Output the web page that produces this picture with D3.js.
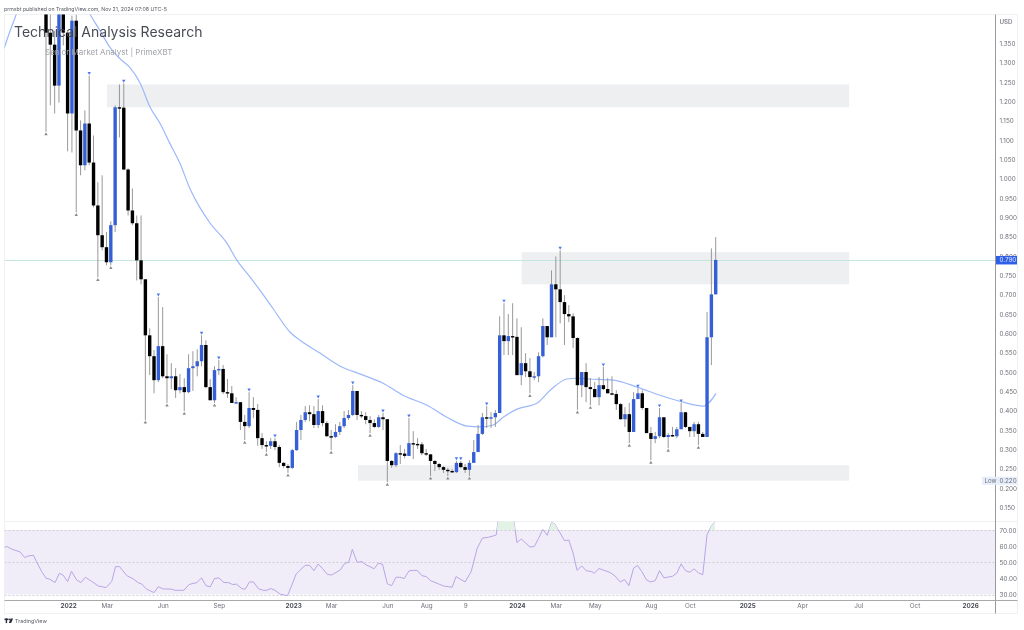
<!DOCTYPE html>
<html><head><meta charset="utf-8">
<script src="https://d3js.org/d3.v7.min.js"></script>
<style>html,body{margin:0;padding:0;background:#fff}svg{display:block;font-family:Inter,"Noto Sans",sans-serif;filter:blur(0.4px)}</style>
</head><body><svg id="c" width="1024" height="630"></svg>
<script>
const opens=[1.46,1.378,1.347,1.241,1.448,1.378,1.169,1.409,1.125,1.035,
1.143,1.042,.931,.854,.823,.784,.880,1.185,1.184,1.024,
.918,.885,.789,.740,.595,.541,.479,.567,.489,.484,
.489,.453,.461,.448,.510,.515,.528,.570,.461,.427,
.505,.508,.448,.445,.420,.422,.371,.360,.407,.402,
.329,.311,.309,.321,.306,.265,.257,.252,.298,.350,
.376,.396,.391,.363,.399,.368,.334,.332,.345,.360,
.381,.389,.451,.389,.386,.376,.368,.358,.383,.378,
.270,.259,.290,.289,.283,.316,.314,.313,.290,.287,
.270,.262,.254,.247,.244,.241,.265,.254,.247,.265,
.293,.340,.383,.381,.383,.394,.595,.580,.593,.591,
.492,.523,.502,.487,.489,.541,.619,.590,.727,.714,
.681,.650,.644,.588,.466,.500,.461,.456,.435,.466,
.456,.445,.443,.417,.378,.391,.345,.430,.445,.407,
.342,.327,.334,.383,.332,.337,.334,.352,.396,.358,
.347,.365,.340,.332,.590,.701];
const closes=[1.378,1.347,1.241,1.448,1.378,1.169,1.409,1.125,1.035,1.143,
1.042,.931,.854,.823,.784,.880,1.185,1.184,1.024,.918,
.885,.789,.740,.595,.541,.479,.567,.489,.484,.489,
.453,.461,.448,.510,.515,.528,.570,.461,.427,.505,
.508,.448,.445,.420,.422,.371,.360,.407,.402,.329,
.311,.309,.321,.306,.265,.257,.252,.298,.350,.376,
.396,.391,.363,.399,.368,.334,.332,.345,.360,.381,
.389,.451,.389,.386,.376,.368,.358,.383,.378,.270,
.259,.290,.289,.283,.316,.314,.313,.290,.287,.270,
.262,.254,.247,.244,.241,.265,.254,.247,.265,.293,
.340,.383,.381,.383,.394,.595,.580,.593,.591,.492,
.523,.502,.487,.489,.541,.619,.590,.727,.714,.681,
.650,.644,.588,.466,.500,.461,.456,.435,.466,.456,
.445,.443,.417,.378,.391,.345,.430,.445,.407,.342,
.327,.334,.383,.332,.337,.334,.352,.396,.358,.347,
.365,.340,.332,.590,.701,.790];
const highs=[1.46,1.46,1.383,1.46,1.46,1.383,1.422,1.425,1.151,1.177,
1.267,1.112,.991,1.009,.862,.890,1.190,1.244,1.247,1.027,
.975,.905,.905,.740,.613,.557,.694,.668,.546,.523,
.510,.495,.484,.546,.554,.559,.595,.582,.482,.515,
.531,.518,.482,.464,.435,.422,.389,.448,.435,.417,
.342,.321,.329,.329,.311,.267,.262,.301,.371,.389,
.412,.414,.412,.430,.414,.373,.350,.365,.371,.399,
.402,.466,.451,.399,.396,.386,.378,.389,.394,.378,
.272,.293,.311,.301,.381,.347,.329,.319,.301,.288,
.272,.265,.257,.252,.249,.270,.270,.262,.272,.324,
.363,.394,.412,.396,.402,.644,.678,.650,.678,.639,
.616,.549,.536,.500,.551,.639,.616,.763,.799,.815,
.699,.673,.652,.590,.500,.523,.484,.474,.487,.513,
.484,.489,.453,.420,.409,.420,.448,.458,.453,.407,
.358,.345,.407,.383,.342,.358,.358,.420,.396,.358,
.371,.371,.345,.655,.820,.849];
const lows=[1.122,1.190,1.169,1.197,1.345,1.071,1.068,.913,1.009,1.022,
1.035,.926,.745,.815,.776,.776,.862,1.107,1.022,.905,
.880,.737,.727,.376,.492,.445,.474,.484,.420,.456,
.433,.445,.399,.445,.451,.489,.515,.458,.427,.420,
.492,.443,.433,.420,.417,.350,.324,.355,.381,.309,
.301,.293,.301,.298,.254,.252,.239,.249,.296,.324,
.371,.373,.355,.355,.360,.332,.298,.329,.337,.355,
.376,.386,.376,.381,.365,.342,.355,.355,.350,.215,
.252,.254,.262,.277,.283,.275,.301,.285,.283,.231,
.244,.247,.239,.231,.239,.239,.252,.239,.231,.265,
.296,.337,.355,.355,.358,.394,.544,.544,.544,.492,
.466,.487,.445,.479,.474,.538,.570,.590,.590,.626,
.570,.629,.562,.402,.435,.422,.414,.435,.414,.453,
.445,.440,.402,.376,.358,.316,.345,.433,.402,.342,
.272,.316,.329,.329,.303,.332,.329,.352,.355,.332,
.332,.311,.332,.332,.518,.701];
const pivotHighs=[10,18,26,36,40,47,53,63,71,78,84,95,96,102,106,119,129,137,142,147];
const pivotLows=[0,7,12,15,23,28,32,39,46,51,56,66,75,79,89,93,98,112,123,126,135,140,144,151];
const maIndex=[-9.7,-8.3,-6.9,-5.5,9,10.2,12.5,14.8,17.1,19.4,21.8,24.1,26.4,28.7,31,33.3,35.6,38,41.9,44.2,46.5,49.5,52.5,56.5,58.8,63.4,68.1,73.4,78,82.6,88.2,92.8,97.5,100.5,103.5,105.8,109,113.7,116.7,120.6,122.9,125.9,131.3,136.8,142.1,147.5,152.1,155.1];
const maValue=[1.337,1.383,1.425,1.47,1.448,1.425,1.383,1.340,1.311,1.288,1.247,1.185,1.143,1.091,1.040,.975,.926,.885,.833,.789,.756,.712,.665,.603,.582,.549,.515,.492,.471,.440,.414,.383,.360,.358,.363,.383,.404,.420,.453,.482,.484,.482,.479,.461,.440,.422,.412,.445];
const rsiIndex=[-9.7,-9,-8,-6,-4.9,-4.1,-2.9,-2.2,-1,0,.9,2.1,3.1,4,5,5.9,7.1,8.1,9.1,10.2,12.1,13.9,15.2,16.1,17,18.7,20.2,21.4,22.1,23.3,25,26,27,29.1,29.9,31.9,33.1,34.9,36,37,38,39,40,41.2,42.2,43.2,44.1,45.3,46.1,47.1,48,49.2,50.3,51.1,52,53,54.2,55.9,56.9,57.9,59,60,61,62,63,64,65.1,66.1,68.1,69.1,70.1,70.9,72,73.1,74.1,75,
75.9,76.9,77.9,79,80,81,81.9,82.9,84,85,86,87,88,89,90.8,92,94,94.9,97,98.4,99.8,101,102.4,103.5,104.2,104.7,108.2,109,110,112,113,114,115,116,117,117.8,120,121,122,122.9,124,125,126.3,126.9,128,130.6,131.7,132.9,133.9,134.9,136,136.9,137.9,139,139.9,141,142,143,145,146,147,148,149,150,151,152,153,154,154.8];
const rsiValue=[59.3,59.7,58.2,56.4,52.9,53.9,54.3,50.4,44.2,40.1,39.5,37.4,43.2,41.9,38,44.4,39,37.4,40.7,38.8,35.3,34.3,38,47.3,47.3,41.7,39.7,37.2,36.6,33.3,31.2,34.9,33.5,33.3,32.6,32.6,36.2,37.4,40.3,35.5,34.7,39.9,40.3,37.4,37.4,36.2,36.4,33.7,33.3,37.8,37.8,33.5,32.6,32.6,33.7,32.6,30.2,29.3,35.9,42.7,45.6,48.1,48.1,44.8,48.9,46.1,42.5,42.1,45.2,49.2,50.2,58,50,50.4,48.3,47.3,
45.9,49.4,48.7,36.6,35.5,40.7,40.7,39.9,44.6,45,44.8,41.7,41.1,38.6,36.6,35.3,34.5,41.1,37.8,44.2,58.6,65,65.5,66.3,66.9,77,77,62.2,64.4,59.5,59.7,64.8,70.4,66.7,74.7,73.7,63.4,63.8,55.6,45,47.7,44.8,44.2,43.2,46.1,43.6,41.5,37.8,39.2,35.5,46.3,48.1,44.2,39,37.8,38.6,44.8,40.3,41.3,43.2,49,44.8,43.8,45.9,43.4,42.3,67.1,72.7,75];
const zoneStart=[14.1,110.1,72.2];
const zoneEnd=[185.9,185.9,185.9];
const zoneTop=[1.244,.810,.259];
const zoneBottom=[1.185,.727,.219];
const priceTicks=[1.35,1.3,1.25,1.2,1.15,1.1,1.05,1,.95,.9,.85,.8,.75,.7,.65,.6,.55,.5,.45,.4,.35,.3,.25,.2,.15];
const rsiTicks=[70,60,50,40,30];
const rsiLevels=[70,50,30];
const timeIndex=[5.1,14.1,27,40,57.2,66,79,88,97,109,118,127,140,149,162.3,175,188,201,213.9];
const timeLabels=["2022","Mar","Jun","Sep","2023","Mar","Jun","Aug","9","2024","Mar","May","Aug","Oct","2025","Apr","Jul","Oct","2026"];
const lastPrice=.79, lowPrice=.22;

const svg=d3.select("#c");
const L=4.5,R=995.5,T=14.5,PB=521.5,B=600.5,O=1017.5,OB=613.5;
const x=d3.scaleLinear().domain([0,155]).range([46,715.7]);
const y=d3.scaleLinear().domain([.2,1.35]).range([488,43.5]);
const r=d3.scaleLinear().domain([30,70]).range([594.5,530]);
const defs=svg.append("defs");
defs.append("clipPath").attr("id","pp").append("rect").attr("x",L).attr("y",T).attr("width",R-L).attr("height",PB-T);
defs.append("clipPath").attr("id","rp").append("rect").attr("x",L).attr("y",PB).attr("width",R-L).attr("height",B-PB);
defs.append("clipPath").attr("id","over").append("rect").attr("x",L).attr("y",PB).attr("width",R-L).attr("height",r(70)-PB);

// frame
svg.append("path").attr("d",`M${L},${OB}V${T}H${O}V${OB}H${L}M${L},${PB}H${O}`).attr("fill","none").attr("stroke","#f0f0f3");

// zones
const gp=svg.append("g").attr("clip-path","url(#pp)");
gp.selectAll("rect.z").data(zoneStart).join("rect").attr("class","z")
 .attr("x",d=>x(d)).attr("width",(d,i)=>x(zoneEnd[i])-x(d))
 .attr("y",(d,i)=>y(zoneTop[i])).attr("height",(d,i)=>y(zoneBottom[i])-y(zoneTop[i]))
 .attr("fill","#eeeff1");

// price line
gp.append("line").attr("x1",L).attr("x2",R).attr("y1",Math.round(y(lastPrice))+.5).attr("y2",Math.round(y(lastPrice))+.5)
 .attr("stroke","#c4e6de").attr("stroke-width",1);

// moving average
gp.append("path").datum(maIndex.map((d,i)=>[d,maValue[i]]))
 .attr("d",d3.line().x(d=>x(d[0])).y(d=>y(d[1])).curve(d3.curveMonotoneX))
 .attr("fill","none").attr("stroke","#9db8fa").attr("stroke-width",1.2);

// candles
const idx=d3.range(closes.length);
gp.selectAll("line.w").data(idx).join("line").attr("class","w")
 .attr("x1",i=>x(i)).attr("x2",i=>x(i)).attr("y1",i=>y(highs[i])).attr("y2",i=>y(lows[i]))
 .attr("stroke","#8d8d8d").attr("stroke-width",.9);
gp.selectAll("rect.b").data(idx).join("rect").attr("class","b")
 .attr("x",i=>x(i)-1.7).attr("width",3.4)
 .attr("y",i=>y(Math.max(opens[i],closes[i])))
 .attr("height",i=>Math.max(1.4,Math.abs(y(opens[i])-y(closes[i]))))
 .attr("fill",i=>closes[i]>opens[i]?"#355fd6":"#000");

// pivot markers
const tri=d3.symbol().type(d3.symbolTriangle).size(5)();
gp.selectAll("path.ph").data(pivotHighs).join("path").attr("class","ph").attr("d",tri)
 .attr("transform",i=>`translate(${x(i)},${y(highs[i])-2.6}) rotate(180)`).attr("fill","#4d78ea");
gp.selectAll("path.pl").data(pivotLows).join("path").attr("class","pl").attr("d",tri)
 .attr("transform",i=>`translate(${x(i)},${y(lows[i])+2.6})`).attr("fill","#8a8a8a");

// RSI
const rg=svg.append("g").attr("clip-path","url(#rp)");
rg.append("rect").attr("x",L).attr("width",R-L).attr("y",r(70)).attr("height",r(30)-r(70)).attr("fill","#f0edf8");
rg.selectAll("line.l").data(rsiLevels).join("line").attr("class","l")
 .attr("x1",L).attr("x2",R).attr("y1",d=>Math.round(r(d))+.5).attr("y2",d=>Math.round(r(d))+.5)
 .attr("stroke","#cfcdd6").attr("stroke-dasharray","2 2");
const rsiPts=rsiIndex.map((d,i)=>[d,rsiValue[i]]);
svg.append("path").datum(rsiPts).attr("clip-path","url(#over)")
 .attr("d",d3.area().x(d=>x(d[0])).y0(r(70)).y1(d=>r(d[1])))
 .attr("fill","#e2f3e5");
rg.append("path").datum(rsiPts).attr("d",d3.line().x(d=>x(d[0])).y(d=>r(d[1])))
 .attr("fill","none").attr("stroke","#b6a6e4").attr("stroke-width",1);

// axis lines
svg.append("line").attr("x1",R).attr("x2",R).attr("y1",T).attr("y2",OB).attr("stroke","#9a9a9a");
svg.append("line").attr("x1",L).attr("x2",O).attr("y1",B).attr("y2",B).attr("stroke","#a8a8a8");

// axes
function style(g,size,col,w){g.select(".domain").remove();g.selectAll(".tick line").remove();
 g.selectAll("text").attr("font-family","Inter,sans-serif").attr("font-size",size).attr("fill",col).attr("font-weight",w||400);}
const pa=svg.append("g").attr("transform",`translate(${R},0)`)
 .call(d3.axisRight(y).tickValues(priceTicks).tickSize(0).tickPadding(4).tickFormat(d3.format(".3f")));
style(pa,6.3,"#6c6f79");
const ra=svg.append("g").attr("transform",`translate(${R},0)`)
 .call(d3.axisRight(r).tickValues(rsiTicks).tickSize(0).tickPadding(4).tickFormat(d3.format(".2f")));
style(ra,6.3,"#6c6f79");
const ta=svg.append("g").attr("transform",`translate(0,${B})`)
 .call(d3.axisBottom(x).tickValues(timeIndex).tickSize(0).tickPadding(3).tickFormat((d,i)=>timeLabels[i]));
style(ta,6.3,"#6c6f79");
ta.selectAll("text").filter((d,i)=>/^20/.test(timeLabels[i])).attr("font-weight",700).attr("fill","#4a4d57");

// labels
svg.append("text").attr("x",1006).attr("y",23.5).attr("text-anchor","middle").attr("font-size",6.2).attr("fill","#6c6f79").attr("font-weight",500).text("USD");
const ly=y(lastPrice);
svg.append("rect").attr("x",996).attr("y",ly-4).attr("width",21).attr("height",8.5).attr("fill","#2f5fe8");
svg.append("text").attr("x",999.4).attr("y",ly+2.4).attr("font-size",6.3).attr("fill","#dfe7ff").text(d3.format(".3f")(lastPrice));
const lo=y(lowPrice);
svg.append("rect").attr("x",982).attr("y",lo-3.5).attr("width",35).attr("height",8).attr("fill","#e6eefc");
svg.append("text").attr("x",984.5).attr("y",lo+2.8).attr("font-size",6.1).attr("fill","#6c6f79").text("Low");
svg.append("text").attr("x",999.4).attr("y",lo+2.8).attr("font-size",6.3).attr("fill","#6c6f79").text(d3.format(".3f")(lowPrice));

// titles
svg.append("text").attr("x",14).attr("y",37).attr("font-size",14).attr("fill","#3f424c").attr("opacity",.95).text("Technical Analysis Research");
svg.append("text").attr("x",45).attr("y",55).attr("font-size",8).attr("fill","#a2a4ab").text("Senior Market Analyst | PrimeXBT");
svg.append("text").attr("x",4).attr("y",11).attr("font-size",5.2).attr("fill","#55585f").text("prmxbt published on TradingView.com, Nov 21, 2024 07:08 UTC-5");
// footer
const logo=svg.append("g").attr("transform","translate(4.5,618.5)").attr("fill","#2a2e39");
logo.append("rect").attr("width",3.6).attr("height",1.6);
logo.append("rect").attr("x",1.2).attr("width",1.4).attr("height",4.6);
logo.append("circle").attr("cx",4.7).attr("cy",.9).attr("r",.8);
logo.append("path").attr("d","M6,0H8.6L6.6,4.6H4.4Z");
svg.append("text").attr("x",15).attr("y",623.4).attr("font-size",5.4).attr("fill","#5a5d66").text("TradingView");
</script></body></html>
